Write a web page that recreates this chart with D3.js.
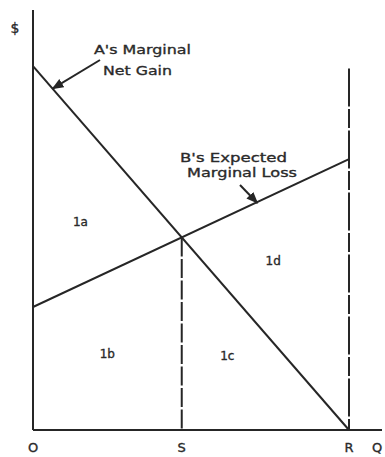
<!DOCTYPE html>
<html>
<head>
<meta charset="utf-8">
<script src="https://cdn.jsdelivr.net/npm/d3@7"></script>
<style>
  html, body { margin: 0; padding: 0; background: #fff; }
  svg { display: block; }
  text { font-family: "DejaVu Sans", sans-serif; fill: #2a2a2a; stroke: #2a2a2a; stroke-width: 0.35px; }
</style>
</head>
<body>
<script>
// Quantity axis markers (O, S, R, Q) and dollar scale
const qTicks = ["O", "S", "R"];
const qDomain = [0, 11.0];
const vDomain = [0, 14];
const rQuantity = 10;

// A's marginal net gain: falls from the $ axis to zero at R
const aQ = [0, 10];
const aV = [12.13, 0];

// B's expected marginal loss: rises from the $ axis to R
const bQ = [0, 10];
const bV = [4.1, 9.03];

// Region labels and their positions in (Q, $) units
const regionNames = ["1a", "1b", "1c", "1d"];
const regionQ = [1.5, 2.35, 6.15, 7.6];
const regionV = [6.8, 2.4, 2.35, 5.5];

const W = 385, H = 457;
const svg = d3.select("body").append("svg").attr("width", W).attr("height", H);

const x = d3.scaleLinear().domain(qDomain).range([33, 380.6]);
const y = d3.scaleLinear().domain(vDomain).range([430, 10]);

const ink = "#262626";

// Intersection of the two lines gives S
const slopeA = (aV[1] - aV[0]) / (aQ[1] - aQ[0]);
const slopeB = (bV[1] - bV[0]) / (bQ[1] - bQ[0]);
const sQ = (bV[0] - aV[0]) / (slopeA - slopeB);
const sV = aV[0] + slopeA * sQ;
const qTickValues = [0, sQ, rQuantity];

// Axes
svg.append("line").attr("x1", x(0)).attr("x2", x(0)).attr("y1", y(vDomain[1])).attr("y2", y(0))
  .attr("stroke", ink).attr("stroke-width", 2);
svg.append("line").attr("x1", x(0)).attr("x2", 382).attr("y1", y(0)).attr("y2", y(0))
  .attr("stroke", ink).attr("stroke-width", 2);

// Axis labels
svg.append("text").attr("x", 15).attr("y", 33).attr("text-anchor", "middle")
  .attr("font-size", 14).text("$");
qTicks.forEach((t, i) => {
  svg.append("text").attr("x", x(qTickValues[i])).attr("y", 452).attr("text-anchor", "middle")
    .attr("font-size", 13).text(t);
});
svg.append("text").attr("x", 377).attr("y", 452).attr("text-anchor", "middle")
  .attr("font-size", 13).text("Q");

// Dashed verticals at S and R
const dash = "19,2.5";
svg.append("line").attr("x1", x(sQ)).attr("x2", x(sQ)).attr("y1", y(sV)).attr("y2", y(0))
  .attr("stroke", ink).attr("stroke-width", 2).attr("stroke-dasharray", dash);
svg.append("line").attr("x1", x(rQuantity)).attr("x2", x(rQuantity)).attr("y1", y(12.05)).attr("y2", y(0))
  .attr("stroke", ink).attr("stroke-width", 2).attr("stroke-dasharray", "38,2.5,19,2.5");

// Curves
const line = d3.line().x(d => x(d[0])).y(d => y(d[1]));
svg.append("path").attr("d", line(d3.zip(aQ, aV))).attr("fill", "none")
  .attr("stroke", ink).attr("stroke-width", 2);
svg.append("path").attr("d", line(d3.zip(bQ, bV))).attr("fill", "none")
  .attr("stroke", ink).attr("stroke-width", 2);

// Arrowhead marker for the pointers
svg.append("defs").append("marker").attr("id", "arrow")
  .attr("viewBox", "0 0 10 10").attr("refX", 9).attr("refY", 5)
  .attr("markerWidth", 6).attr("markerHeight", 6).attr("orient", "auto")
  .append("path").attr("d", "M0,1 L10,5 L0,9 Z").attr("fill", ink);

// Curve captions
function caption(lines) {
  lines.forEach(l => {
    svg.append("text").attr("x", l.x).attr("y", l.y).attr("font-size", 13)
      .attr("textLength", l.w).attr("lengthAdjust", "spacingAndGlyphs")
      .text(l.t);
  });
}
caption([
  { t: "A's Marginal", x: 94, y: 54, w: 97 },
  { t: "Net Gain", x: 103, y: 75, w: 69 },
  { t: "B's Expected", x: 180, y: 162, w: 107 },
  { t: "Marginal Loss", x: 187, y: 177, w: 110 }
]);

// Pointer arrows from captions to curves
svg.append("line").attr("x1", 100).attr("y1", 60).attr("x2", x(0.62)).attr("y2", y(aV[0] + slopeA * 0.62))
  .attr("stroke", ink).attr("stroke-width", 2).attr("marker-end", "url(#arrow)");
svg.append("line").attr("x1", 240).attr("y1", 185).attr("x2", x(7.1)).attr("y2", y(bV[0] + slopeB * 7.1) + 1)
  .attr("stroke", ink).attr("stroke-width", 2).attr("marker-end", "url(#arrow)");

// Region labels
regionNames.forEach((n, i) => {
  svg.append("text").attr("x", x(regionQ[i])).attr("y", y(regionV[i])).attr("text-anchor", "middle")
    .attr("font-size", 12).text(n);
});
</script>
</body>
</html>
